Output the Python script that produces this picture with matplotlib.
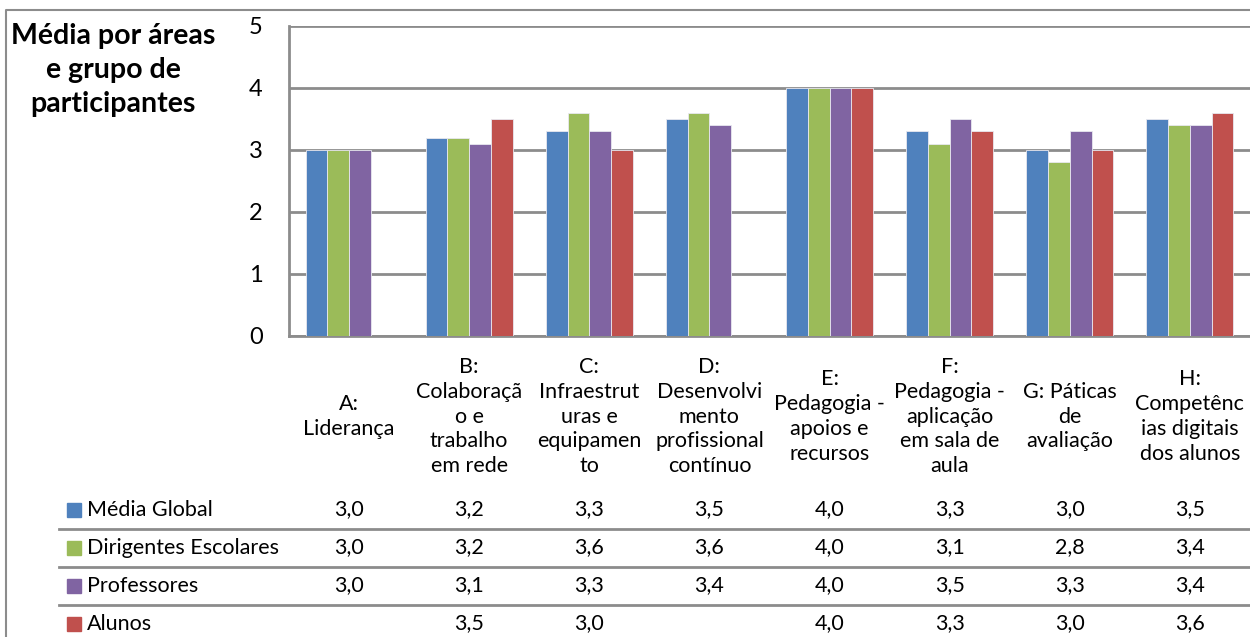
import numpy as np
import matplotlib
matplotlib.use("Agg")
import matplotlib.pyplot as plt
import matplotlib.transforms as mtransforms
from matplotlib.patches import Rectangle
from matplotlib.lines import Line2D

# ---- data -------------------------------------------------------------------
CATEGORIES = [
    "A:\nLiderança",
    "B:\nColaboraçã\no e\ntrabalho\nem rede",
    "C:\nInfraestrut\nuras e\nequipamen\nto",
    "D:\nDesenvolvi\nmento\nprofissional\ncontínuo",
    "E:\nPedagogia -\napoios e\nrecursos",
    "F:\nPedagogia -\naplicação\nem sala de\naula",
    "G: Páticas\nde\navaliação",
    "H:\nCompetênc\nias digitais\ndos alunos",
]
SERIES = ["Média Global", "Dirigentes Escolares", "Professores", "Alunos"]
MEDIA_GLOBAL = [3.0, 3.2, 3.3, 3.5, 4.0, 3.3, 3.0, 3.5]
DIRIGENTES = [3.0, 3.2, 3.6, 3.6, 4.0, 3.1, 2.8, 3.4]
PROFESSORES = [3.0, 3.1, 3.3, 3.4, 4.0, 3.5, 3.3, 3.4]
ALUNOS = [np.nan, 3.5, 3.0, np.nan, 4.0, 3.3, 3.0, 3.6]
COLORS = ["#4F81BD", "#9BBB59", "#8064A2", "#C0504D"]
TITLE = "Média por áreas\ne grupo de\nparticipantes"

W, H = 1250, 637
FONT = ["Lato", "DejaVu Sans"]
FS = 15.5
GRAY = "#8c8c8c"

plt.rcParams["font.family"] = FONT

fig = plt.figure(figsize=(W / 100, H / 100), dpi=100)
ax = fig.add_axes([289 / W, 1 - 336 / H, (W - 289) / W, (336 - 26) / H])

values = [MEDIA_GLOBAL, DIRIGENTES, PROFESSORES, ALUNOS]
x = np.arange(len(CATEGORIES))
bw = 0.181
for i, (vals, col) in enumerate(zip(values, COLORS)):
    ax.bar(x + (i - 1.5) * bw, vals, width=bw, color=col,
           edgecolor="#e8e8f0", linewidth=0.6, zorder=3)

ax.set_xlim(-0.5, len(CATEGORIES) - 0.5)
ax.set_ylim(0, 5)
ax.set_yticks(range(6))
ax.yaxis.grid(True, color=GRAY, linewidth=2, zorder=0)
for s in ["top", "right"]:
    ax.spines[s].set_visible(False)
for s in ["left", "bottom"]:
    ax.spines[s].set_color(GRAY)
    ax.spines[s].set_linewidth(2)
ax.tick_params(axis="y", length=0, pad=19, labelsize=17)
ax.set_xticks(x)
ax.set_xticklabels(CATEGORIES, va="center", fontsize=FS, linespacing=1.3)
ax.tick_params(axis="x", length=0, pad=58)

# title
fig.text(113 / W, 1 - 70 / H, TITLE, ha="center", va="center", fontsize=20.5,
         fontweight="bold", linespacing=1.4)

# data table
trans = mtransforms.blended_transform_factory(ax.transData, fig.transFigure)
row_y = [509.5, 547.5, 585.5, 623.5]
for name, vals, col, ry in zip(SERIES, values, COLORS, row_y):
    yf = 1 - ry / H
    fig.patches.append(Rectangle((67 / W, yf - 7 / H), 14 / W, 14 / H,
                                 transform=fig.transFigure, color=col))
    fig.text(87 / W, yf, name, ha="left", va="center", fontsize=FS)
    for xi, v in zip(x, vals):
        if not np.isnan(v):
            ax.text(xi, yf, f"{v:.1f}".replace(".", ","), transform=trans,
                    ha="center", va="center", fontsize=FS, clip_on=False)
for ly in [529, 567, 605]:
    fig.lines.append(Line2D([59 / W, 1], [1 - ly / H] * 2, transform=fig.transFigure,
                            color=GRAY, linewidth=2))

# outer chart border
fig.lines.append(Line2D([6 / W, 6 / W, 1], [0, 1 - 10 / H, 1 - 10 / H],
                        transform=fig.transFigure, color=GRAY, linewidth=1.5))

fig.savefig("out.png", dpi=100)
